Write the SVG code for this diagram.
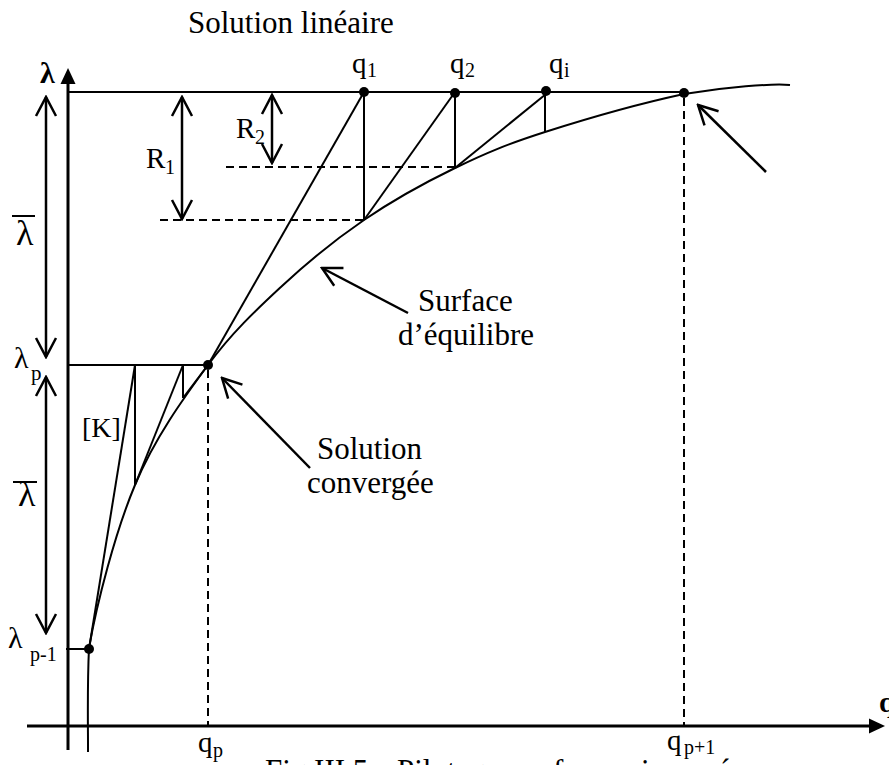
<svg xmlns="http://www.w3.org/2000/svg" width="889" height="765" viewBox="0 0 889 765">
<style>
text{font-family:"Liberation Serif","Times New Roman",serif;fill:#000}
.ln{stroke:#000;stroke-width:2;fill:none}
.ax{stroke:#000;stroke-width:3;fill:none}
.ds{stroke:#000;stroke-width:2;stroke-dasharray:8 5;fill:none}
.ar{stroke:#000;stroke-width:2.5;fill:none}
.big{font-size:31px}
.mid{font-size:29px}
.sub{font-size:20px}
</style>
<defs>
<marker id="v" viewBox="-21 -12 23 24" refX="0" refY="0" markerWidth="23" markerHeight="24" markerUnits="userSpaceOnUse" orient="auto-start-reverse">
<path d="M-19,-10 L0,0 L-19,10" fill="none" stroke="#000" stroke-width="2.5"/>
</marker>
</defs>
<rect width="889" height="765" fill="#fff"/>

<g id="axes">
<line class="ax" x1="68" y1="750" x2="68" y2="80"/>
<path d="M68,68 L75.5,84 L60.5,84 Z" fill="#000"/>
<line class="ax" x1="27" y1="726" x2="872" y2="726"/>
<path d="M885,726 L869,718.5 L869,733.5 Z" fill="#000"/>
<text x="40" y="83" font-size="30" font-weight="bold">λ</text>
<text x="879" y="712" font-size="29" font-weight="bold">q</text>
</g>

<g id="curve">
<path class="ln" d="M88,752 C88.2,734.7 87,690 89,648 C96.8,603.5 115.2,532.2 135,485 C154.8,437.8 183.5,398.2 208,365 C232.5,331.8 256,310.2 282,286 C308,261.8 335.2,239.7 364,220 C392.8,200.3 424.8,182.7 455,168 C485.2,153.3 506.8,144.2 545,132 C583.2,119.8 643.2,102.8 684,94 C724.8,87.2 772.3,83.3 790,85"/>
</g>

<g id="connectors">
<line class="ln" x1="68" y1="92" x2="684" y2="92"/>
<line class="ln" x1="208" y1="365" x2="364" y2="92"/>
<line class="ln" x1="364" y1="92" x2="364" y2="220"/>
<line class="ln" x1="364" y1="220" x2="455" y2="92"/>
<line class="ln" x1="455" y1="92" x2="455" y2="168"/>
<line class="ln" x1="455" y1="168" x2="546" y2="94"/>
<line class="ln" x1="545" y1="92" x2="545" y2="132"/>
<line class="ln" x1="68" y1="365" x2="208" y2="365"/>
<line class="ln" x1="89" y1="649" x2="135" y2="365"/>
<line class="ln" x1="135" y1="365" x2="135" y2="485"/>
<line class="ln" x1="135" y1="485" x2="183" y2="365"/>
<line class="ln" x1="183" y1="365" x2="183" y2="398"/>
<line class="ln" x1="183" y1="398" x2="208" y2="365"/>
<line class="ln" x1="66" y1="649" x2="89" y2="649"/>
<line class="ds" x1="160" y1="220" x2="364" y2="220"/>
<line class="ds" x1="226" y1="167" x2="455" y2="167"/>
<line class="ds" x1="208" y1="370" x2="208" y2="726"/>
<line class="ds" x1="684" y1="98" x2="684" y2="726"/>
<line class="ar" x1="46" y1="97" x2="46" y2="357" marker-start="url(#v)" marker-end="url(#v)"/>
<line class="ar" x1="46" y1="377" x2="46" y2="633" marker-start="url(#v)" marker-end="url(#v)"/>
<line class="ar" x1="182" y1="97" x2="182" y2="219" marker-start="url(#v)" marker-end="url(#v)"/>
<line class="ar" x1="272" y1="95" x2="272" y2="163" marker-start="url(#v)" marker-end="url(#v)"/>
<line class="ar" x1="408" y1="313" x2="322" y2="268" marker-end="url(#v)"/>
<line class="ar" x1="310" y1="468" x2="222" y2="378" marker-end="url(#v)"/>
<line class="ar" x1="766" y1="172" x2="698" y2="105" marker-end="url(#v)"/>
</g>

<g id="points">
<circle cx="364" cy="92" r="5"/>
<circle cx="455" cy="93" r="5"/>
<circle cx="546" cy="91" r="5"/>
<circle cx="684" cy="93" r="5"/>
<circle cx="208" cy="365" r="5"/>
<circle cx="89" cy="649" r="5"/>
</g>

<g id="labels">
<text class="big" x="188" y="33">Solution linéaire</text>
<text class="mid" x="352" y="73">q</text><text class="sub" x="367" y="77">1</text>
<text class="mid" x="450" y="73">q</text><text class="sub" x="465" y="77">2</text>
<text class="mid" x="549" y="73">q</text><text class="sub" x="564" y="77">i</text>
<text x="146" y="168" font-size="29">R</text><text class="sub" x="165" y="174">1</text>
<text x="236" y="138" font-size="29">R</text><text class="sub" x="255" y="144">2</text>
<line x1="12" y1="216" x2="35" y2="216" stroke="#000" stroke-width="2"/>
<text x="16" y="245" font-size="36">λ</text>
<line x1="13" y1="482" x2="37" y2="482" stroke="#000" stroke-width="2"/>
<text x="18" y="506" font-size="36">λ</text>
<text x="14" y="368" font-size="30">λ</text><text x="31" y="380" font-size="21">p</text>
<text x="8" y="648" font-size="30">λ</text><text x="30" y="661" font-size="20">p-1</text>
<text x="82" y="437" font-size="28">[K]</text>
<text class="big" x="418" y="311">Surface</text>
<text class="big" x="398" y="345">d’équilibre</text>
<text class="big" x="317" y="459">Solution</text>
<text class="big" x="307" y="493">convergée</text>
<text class="mid" x="198" y="752">q</text><text class="sub" x="213" y="757">p</text>
<text class="mid" x="667" y="750">q</text><text class="sub" x="684" y="754">p+1</text>
<text class="big" y="781"><tspan x="265">Fig.III.5 :</tspan><tspan x="397">Pilotage par</tspan><tspan x="553">force</tspan><tspan x="641">imposée</tspan></text>
</g>
</svg>
